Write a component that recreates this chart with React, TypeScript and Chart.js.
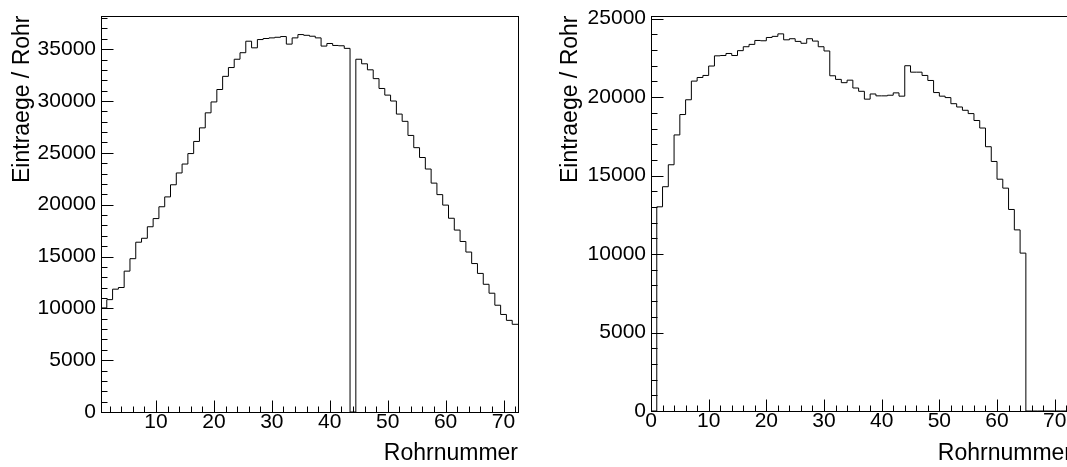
import { useEffect, useRef } from "react";
import { Chart, registerables } from "chart.js";

Chart.register(...registerables);

// ---------- data ----------
const X_TITLE = "Rohrnummer";
const Y_TITLE = "Eintraege / Rohr";

// left panel: entries per tube, tubes 1..72 (bins centred on integers)
const leftCounts = [
  10040, 10840, 11850, 12010, 13590, 14790, 16380, 16760, 17870, 18660,
  19800, 20750, 21920, 23060, 23920, 24930, 26100, 27410, 28860, 29910,
  31110, 32380, 33230, 34030, 34660, 35770, 35130, 35930, 36030, 36090,
  36150, 36220, 35490, 36090, 36410, 36340, 36250, 36090, 35300, 35550,
  35360, 35330, 35080, 0, 34030, 33590, 33010, 32160, 31210, 30570,
  30000, 28740, 28040, 26680, 25500, 24550, 23440, 22080, 20970, 19960,
  18690, 17550, 16450, 15430, 14320, 13370, 12320, 11460, 10300, 9410,
  8840, 8460,
];
const leftFirstEdge = 0.5;
const leftXRange = [0.5, 72.5];
const leftYMax = 38250;
const leftXTicks = [10, 20, 30, 40, 50, 60, 70];
const leftYTicks = [0, 5000, 10000, 15000, 20000, 25000, 30000, 35000];

// right panel: entries per tube, bins [k, k+1], k = 0..72
const rightCounts = [
  0, 13010, 14290, 15690, 17590, 18890, 19830, 21020, 21250, 21380,
  21980, 22630, 22650, 22780, 22650, 22960, 23210, 23360, 23610, 23590,
  23800, 23870, 24030, 23650, 23720, 23550, 23430, 23720, 23570, 23210,
  22940, 21360, 21130, 20920, 21080, 20580, 20370, 19870, 20200, 20080,
  20080, 20120, 20270, 20060, 22000, 21590, 21590, 21380, 21060, 20290,
  20060, 19970, 19580, 19370, 19160, 18950, 18510, 18030, 16840, 15900,
  14770, 14200, 12840, 11540, 10060, 0, 0, 0, 0, 0,
  0, 0, 0,
];
const rightFirstEdge = 0;
const rightXRange = [0, 73];
const rightYMax = 25200;
const rightXTicks = [0, 10, 20, 30, 40, 50, 60, 70];
const rightYTicks = [0, 5000, 10000, 15000, 20000, 25000];

const xMajorStep = 10;
const xMinorStep = 2;
const yMajorStep = 5000;
const yMinorStep = 1000;

// ---------- styling / layout ----------
const FONT = "'Liberation Sans', Arial, Helvetica, sans-serif";
const TICK_FONT_SIZE = 21;
const TITLE_FONT_SIZE = 23;

type Panel = {
  counts: number[];
  firstEdge: number;
  xRange: number[];
  yMax: number;
  xTicks: number[];
  yTicks: number[];
  canvasLeft: number;
  canvasWidth: number;
  yWidth: number;
  padTop: number;
  padRight: number;
  xHeight: number;
  yTitlePad: number;
};

const panels: Panel[] = [
  {
    counts: leftCounts, firstEdge: leftFirstEdge, xRange: leftXRange, yMax: leftYMax,
    xTicks: leftXTicks, yTicks: leftYTicks,
    canvasLeft: 0, canvasWidth: 533, yWidth: 101, padTop: 10, padRight: 15, xHeight: 55, yTitlePad: 11,
  },
  {
    counts: rightCounts, firstEdge: rightFirstEdge, xRange: rightXRange, yMax: rightYMax,
    xTicks: rightXTicks, yTicks: rightYTicks,
    canvasLeft: 533, canvasWidth: 547, yWidth: 118, padTop: 9, padRight: 8, xHeight: 56, yTitlePad: 26,
  },
];

function histPoints(counts: number[], firstEdge: number) {
  const pts = counts.map((c, i) => ({ x: firstEdge + i, y: c }));
  pts.push({ x: firstEdge + counts.length, y: counts[counts.length - 1] });
  return pts;
}

const rootFrame = {
  id: "rootFrame",
  afterDatasetsDraw(chart: any) {
    const { ctx, chartArea: a } = chart;
    const x = chart.scales.x;
    const y = chart.scales.y;
    ctx.save();
    ctx.strokeStyle = "#000";
    ctx.lineWidth = 1;
    ctx.beginPath();
    const left = Math.round(a.left) + 0.5;
    const bottom = Math.round(a.bottom) + 0.5;
    for (let v = 0; v <= y.max + 1e-6; v += yMinorStep) {
      const py = Math.round(y.getPixelForValue(v)) + 0.5;
      const len = v % yMajorStep === 0 ? 12 : 6;
      ctx.moveTo(left, py);
      ctx.lineTo(left + len, py);
    }
    for (let v = Math.ceil(x.min / xMinorStep) * xMinorStep; v <= x.max + 1e-6; v += xMinorStep) {
      const px = Math.round(x.getPixelForValue(v)) + 0.5;
      const len = v % xMajorStep === 0 ? 12 : 6;
      ctx.moveTo(px, bottom);
      ctx.lineTo(px, bottom - len);
    }
    ctx.stroke();
    ctx.strokeRect(
      left,
      Math.round(a.top) + 0.5,
      Math.round(a.right) - Math.round(a.left),
      Math.round(a.bottom) - Math.round(a.top)
    );
    ctx.restore();
  },
};

function HistPanel({ p }: { p: Panel }) {
  const ref = useRef<HTMLCanvasElement | null>(null);
  useEffect(() => {
    if (!ref.current) return;
    const tickFont = { family: FONT, size: TICK_FONT_SIZE, lineHeight: 1 };
    const titleFont = { family: FONT, size: TITLE_FONT_SIZE, lineHeight: 1 };
    const chart = new Chart(ref.current, {
      type: "line",
      data: {
        datasets: [
          {
            data: histPoints(p.counts, p.firstEdge),
            stepped: "before",
            borderColor: "#000",
            borderWidth: 1,
            pointRadius: 0,
            fill: false,
            tension: 0,
          },
        ],
      },
      options: {
        animation: false,
        responsive: false,
        devicePixelRatio: 1,
        events: [],
        layout: {
          autoPadding: false,
          padding: { left: 0, top: p.padTop, right: p.padRight, bottom: 0 },
        },
        plugins: { legend: { display: false }, tooltip: { enabled: false } },
        scales: {
          x: {
            type: "linear",
            min: p.xRange[0],
            max: p.xRange[1],
            grid: { display: false, drawTicks: false, tickLength: 0 },
            border: { display: false },
            afterBuildTicks: (s: any) => {
              s.ticks = p.xTicks.map((v) => ({ value: v }));
            },
            ticks: {
              autoSkip: false,
              maxRotation: 0,
              padding: 0,
              color: "#000",
              font: tickFont,
              callback: (v: any) => String(v),
            },
            title: {
              display: true,
              text: X_TITLE,
              align: "end",
              color: "#000",
              font: titleFont,
              padding: { top: 0, bottom: 1.5 },
            },
            afterFit: (s: any) => {
              s.height = p.xHeight;
            },
          },
          y: {
            type: "linear",
            min: 0,
            max: p.yMax,
            grid: { display: false, drawTicks: false, tickLength: 0 },
            border: { display: false },
            afterBuildTicks: (s: any) => {
              s.ticks = p.yTicks.map((v) => ({ value: v }));
            },
            ticks: {
              autoSkip: false,
              padding: 5,
              color: "#000",
              font: tickFont,
              callback: (v: any) => String(v),
            },
            title: {
              display: true,
              text: Y_TITLE,
              align: "end",
              color: "#000",
              font: titleFont,
              padding: { top: p.yTitlePad, bottom: 0 },
            },
            afterFit: (s: any) => {
              s.width = p.yWidth;
            },
          },
        },
      } as any,
      plugins: [rootFrame],
    });
    return () => chart.destroy();
  }, [p]);
  return (
    <canvas
      ref={ref}
      width={p.canvasWidth}
      height={467}
      style={{
        position: "absolute",
        left: p.canvasLeft,
        top: 0,
        width: p.canvasWidth,
        height: 467,
      }}
    />
  );
}

export default function App() {
  return (
    <div
      style={{
        position: "fixed",
        left: 0,
        top: 0,
        width: 1067,
        height: 467,
        overflow: "hidden",
        background: "#fff",
      }}
    >
      {panels.map((p, i) => (
        <HistPanel key={i} p={p} />
      ))}
    </div>
  );
}
